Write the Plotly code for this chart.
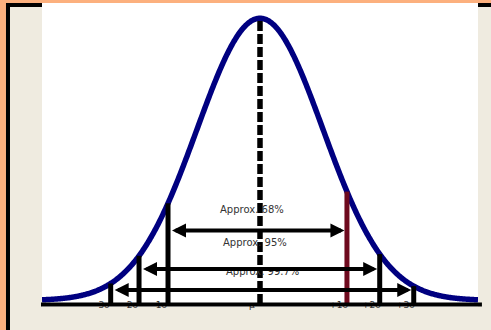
import numpy as np
import plotly.graph_objects as go

# Normal curve, in units of the standard deviation
mean = 0.0
sd = 1.0

# Reference lines under the curve, as drawn on the diagram
sigma_labels = ["-3σ", "-2σ", "-1σ", "μ", "+1σ", "+2σ", "+3σ"]
sigma_pos = [-2.37, -1.92, -1.46, 0.0, 1.38, 1.90, 2.44]

# Coverage bands: (label, left line index, right line index)
band_labels = ["Approx. 68%", "Approx. 95%", "Approx. 99.7%"]
band_left = [2, 1, 0]
band_right = [4, 5, 6]
band_arrow_y = [0.248, 0.112, 0.037]
band_text_y = [0.321, 0.204, 0.103]
band_text_x = [-0.12, -0.08, 0.04]

X_RANGE = [-3.46, 3.46]
Y_RANGE = [-0.023, 1.054]
AXIS_Y = -0.0195
LABEL_Y = -0.0177


def curve(x):
    return np.exp(-0.5 * ((np.asarray(x) - mean) / sd) ** 2)


xs = np.linspace(X_RANGE[0], X_RANGE[1], 600)

fig = go.Figure()

# Bell curve
fig.add_trace(go.Scatter(
    x=xs, y=curve(xs), mode="lines",
    line=dict(color="#000080", width=5.5, simplify=False),
    hoverinfo="skip", showlegend=False,
))

# Vertical lines from the axis up to the curve
for lab, p in zip(sigma_labels, sigma_pos):
    if lab == "μ":
        continue
    color = "#6E0A1E" if lab == "+1σ" else "#000000"
    fig.add_trace(go.Scatter(
        x=[p, p], y=[AXIS_Y, float(curve(p))], mode="lines",
        line=dict(color=color, width=5), hoverinfo="skip", showlegend=False,
    ))

# Dashed mean line
fig.add_trace(go.Scatter(
    x=[mean, mean], y=[-0.0124, float(curve(mean))], mode="lines",
    line=dict(color="#000000", width=5.5, dash="10px,3px"),
    hoverinfo="skip", showlegend=False,
))

# Tick labels sitting on the baseline
fig.add_trace(go.Scatter(
    x=[p - 0.13 for p in sigma_pos], y=[LABEL_Y] * len(sigma_pos),
    mode="text", text=sigma_labels, textposition="middle center",
    textfont=dict(family="DejaVu Sans", size=9, color="#333333"),
    cliponaxis=False, hoverinfo="skip", showlegend=False,
))

annotations = []
for lab, tx, ty in zip(band_labels, band_text_x, band_text_y):
    annotations.append(dict(
        x=tx, y=ty, xref="x", yref="y", text=lab, showarrow=False,
        font=dict(family="DejaVu Sans", size=10, color="#333333"),
    ))
for li, ri, ay in zip(band_left, band_right, band_arrow_y):
    annotations.append(dict(
        x=sigma_pos[ri], y=ay, ax=sigma_pos[li], ay=ay,
        xref="x", yref="y", axref="x", ayref="y", text="",
        showarrow=True, arrowside="end+start",
        arrowhead=2, startarrowhead=2, arrowsize=0.7, startarrowsize=0.7,
        arrowwidth=4, arrowcolor="#000000", standoff=2.5, startstandoff=2.5,
    ))

shapes = [
    # black frame, beige panel and white drawing area
    dict(type="rect", xref="paper", yref="paper", x0=-0.0826, x1=1.05,
         y0=-0.12, y1=1.0, fillcolor="#000000", line=dict(width=0), layer="below"),
    dict(type="rect", xref="paper", yref="paper", x0=-0.0734, x1=1.05,
         y0=-0.12, y1=0.9868, fillcolor="#EFEBE0", line=dict(width=0), layer="below"),
    dict(type="rect", xref="paper", yref="paper", x0=0, x1=1,
         y0=0, y1=1.0, fillcolor="#FFFFFF", line=dict(width=0), layer="below"),
    # baseline
    dict(type="line", xref="paper", yref="paper", x0=-0.0023, x1=1.009,
         y0=0.0082, y1=0.0082, line=dict(color="#000000", width=4), layer="above"),
]

fig.update_layout(
    width=491, height=330, autosize=False,
    margin=dict(l=42, r=13, t=3, b=23, pad=0),
    paper_bgcolor="#FCB07E", plot_bgcolor="#FFFFFF",
    xaxis=dict(range=X_RANGE, visible=False, showgrid=False, zeroline=False, fixedrange=True),
    yaxis=dict(range=Y_RANGE, visible=False, showgrid=False, zeroline=False, fixedrange=True),
    shapes=shapes, annotations=annotations, showlegend=False,
)

fig.write_html("out.html", config={"displayModeBar": False})
